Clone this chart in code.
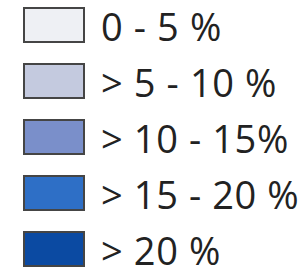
import React from "react";

const labels = ["0 - 5 %", "> 5 - 10 %", "> 10 - 15%", "> 15 - 20 %", "> 20 %"];
const colors = ["#eef0f4", "#c4cadf", "#7a8fca", "#2e6fc6", "#0b4aa2"];

export default function App() {
  const W = 305, H = 269;
  return (
    <svg width={W} height={H} style={{ position: "absolute", left: 0, top: 0, background: "#fff" }}>
      {labels.map((l, i) => {
        const y0 = 8 + i * 56;
        return (
          <g key={i}>
            <rect x={24} y={y0} width={60} height={34} fill={colors[i]} stroke="#454545" strokeWidth={2} />
            <text x={101} y={y0 + 33} fontFamily="'Open Sans', sans-serif" fontSize={38} letterSpacing={0.6} fill="#222">{l}</text>
          </g>
        );
      })}
    </svg>
  );
}
